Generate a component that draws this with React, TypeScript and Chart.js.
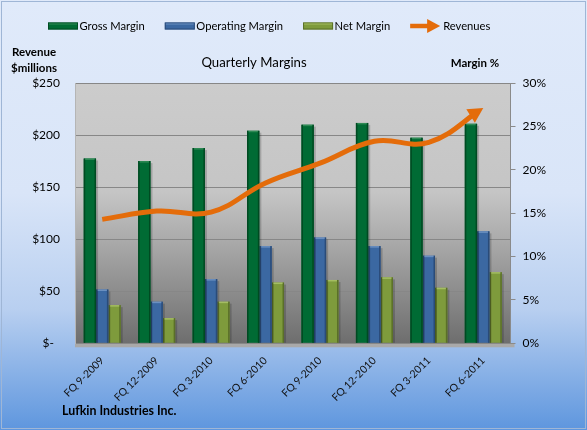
import React, { useEffect, useRef } from 'react';
import { Chart, registerables } from 'chart.js';

Chart.register(...registerables);

// Fiscal quarters shown on the category axis
const quarters = [
  'FQ 9-2009',
  'FQ 12-2009',
  'FQ 3-2010',
  'FQ 6-2010',
  'FQ 9-2010',
  'FQ 12-2010',
  'FQ 3-2011',
  'FQ 6-2011',
];

// Margins in percent (right axis)
const grossMargin = [21.3, 21.0, 22.5, 24.5, 25.2, 25.4, 23.7, 25.3];
const operatingMargin = [6.2, 4.8, 7.4, 11.2, 12.2, 11.2, 10.1, 12.9];
const netMargin = [4.4, 2.9, 4.8, 7.0, 7.3, 7.6, 6.4, 8.2];

// Quarterly revenues in $ millions (left axis)
const revenues = [119, 127, 126, 154, 173, 194, 193, 226];

// Axis ranges
const revenueAxis = { min: 0, max: 250, step: 50 };
const marginAxis = { min: 0, max: 30, step: 5 };

const FONT = 'Lato, "Open Sans", sans-serif';
const ORANGE = '#e46c0a';

const barStyles = [
  { fill: '#006b34', edge: '#004a22', hi: '#2f8a55' },
  { fill: '#3b68a2', edge: '#2a4b78', hi: '#6a8fc0' },
  { fill: '#7e9b3c', edge: '#5a6f28', hi: '#a4bd62' },
];

function arrowGeometry(chart: any, index: number) {
  const meta = chart.getDatasetMeta(index);
  const pts = meta.data;
  if (!pts || pts.length < 2) return null;
  const last = pts[pts.length - 1];
  const prev = pts[pts.length - 2];
  let dx = last.x - (last.cp1x ?? prev.x);
  let dy = last.y - (last.cp1y ?? prev.y);
  let len = Math.hypot(dx, dy);
  if (!isFinite(len) || len < 0.5) {
    dx = last.x - prev.x;
    dy = last.y - prev.y;
    len = Math.hypot(dx, dy);
  }
  const ux = dx / len;
  const uy = dy / len;
  return { tx: last.x, ty: last.y, ux, uy, nx: -uy, ny: ux };
}

const HEAD_LEN = 15;
const HEAD_HALF = 8;

// Ends the revenue line with an arrowhead that points along the curve
const arrowPlugin = {
  id: 'revenueArrow',
  beforeDatasetDraw(chart: any, args: any) {
    const ds = chart.data.datasets[args.index];
    if (ds.type !== 'line') return;
    const g = arrowGeometry(chart, args.index);
    if (!g) return;
    const ctx = chart.ctx;
    const bx = g.tx - g.ux * (HEAD_LEN - 2);
    const by = g.ty - g.uy * (HEAD_LEN - 2);
    const big = 3000;
    ctx.save();
    ctx.beginPath();
    ctx.moveTo(bx + g.nx * big, by + g.ny * big);
    ctx.lineTo(bx + g.nx * big - g.ux * big, by + g.ny * big - g.uy * big);
    ctx.lineTo(bx - g.nx * big - g.ux * big, by - g.ny * big - g.uy * big);
    ctx.lineTo(bx - g.nx * big, by - g.ny * big);
    ctx.closePath();
    ctx.clip();
    (chart as any).$arrowClip = true;
  },
  afterDatasetDraw(chart: any, args: any) {
    const ds = chart.data.datasets[args.index];
    if (ds.type !== 'line') return;
    const ctx = chart.ctx;
    if ((chart as any).$arrowClip) {
      ctx.restore();
      (chart as any).$arrowClip = false;
    }
    const g = arrowGeometry(chart, args.index);
    if (!g) return;
    const bx = g.tx - g.ux * HEAD_LEN;
    const by = g.ty - g.uy * HEAD_LEN;
    ctx.save();
    ctx.fillStyle = ds.borderColor;
    ctx.beginPath();
    ctx.moveTo(g.tx, g.ty);
    ctx.lineTo(bx + g.nx * HEAD_HALF, by + g.ny * HEAD_HALF);
    ctx.lineTo(bx - g.nx * HEAD_HALF, by - g.ny * HEAD_HALF);
    ctx.closePath();
    ctx.fill();
    ctx.restore();
  },
};

// Backgrounds: blue page gradient and grey plot wall with a floor strip
const backgroundPlugin = {
  id: 'backgrounds',
  beforeDraw(chart: any) {
    const { ctx, width, height, chartArea } = chart;
    ctx.save();
    const bg = ctx.createLinearGradient(0, 0, 0, height);
    bg.addColorStop(0, '#e0eafa');
    bg.addColorStop(0.45, '#d9e5f8');
    bg.addColorStop(0.72, '#b8cff0');
    bg.addColorStop(1, '#5e96de');
    ctx.fillStyle = bg;
    ctx.fillRect(0, 0, width, height);
    ctx.strokeStyle = '#9fb6d6';
    ctx.lineWidth = 1;
    ctx.strokeRect(1.5, 1.5, width - 3, height - 3);

    const { left, top, right, bottom } = chartArea;
    const wall = ctx.createLinearGradient(0, top, 0, bottom);
    wall.addColorStop(0, '#cccccc');
    wall.addColorStop(0.42, '#c5c5c5');
    wall.addColorStop(0.62, '#a8a8a8');
    wall.addColorStop(1, '#6e6e6e');
    ctx.fillStyle = wall;
    ctx.fillRect(left, top, right - left, bottom - top);
    ctx.fillStyle = '#a9a9a9';
    ctx.fillRect(left, bottom, right - left + 4, 4);
    ctx.restore();
  },
  afterDatasetDraw(chart: any, args: any) {
    const ds = chart.data.datasets[args.index];
    if (ds.type !== 'bar') return;
    const style = barStyles[args.index];
    const ctx = chart.ctx;
    const meta = chart.getDatasetMeta(args.index);
    ctx.save();
    meta.data.forEach((bar: any) => {
      const l = bar.x - bar.width / 2;
      const w = bar.width;
      const t = bar.y;
      const h = bar.base - bar.y;
      ctx.fillStyle = 'rgba(0,0,0,0.18)';
      ctx.fillRect(l + w, t + 2, 2, h - 2);
      ctx.fillStyle = style.edge;
      ctx.fillRect(l, t, 1.5, h);
      ctx.fillRect(l + w - 1.5, t, 1.5, h);
      ctx.fillStyle = style.hi;
      ctx.fillRect(l + 1.5, t, w - 3, 1.5);
    });
    ctx.restore();
  },
};

// Legend, titles and captions
const textPlugin = {
  id: 'captions',
  afterDraw(chart: any) {
    const ctx = chart.ctx;
    ctx.save();
    ctx.textBaseline = 'middle';
    ctx.fillStyle = '#000';

    // legend
    ctx.font = `11.2px ${FONT}`;
    let x = 48;
    const ly = 26;
    chart.data.datasets.forEach((ds: any, i: number) => {
      if (ds.type === 'bar') {
        const st = barStyles[i];
        ctx.fillStyle = st.fill;
        ctx.fillRect(x, ly - 3.5, 30, 7);
        ctx.strokeStyle = st.edge;
        ctx.lineWidth = 1;
        ctx.strokeRect(x + 0.5, ly - 3, 29, 6);
        ctx.fillStyle = st.hi;
        ctx.fillRect(x + 1, ly - 2.5, 28, 1);
      } else {
        ctx.strokeStyle = ds.borderColor;
        ctx.lineWidth = 4.5;
        ctx.beginPath();
        ctx.moveTo(x, ly);
        ctx.lineTo(x + 19, ly);
        ctx.stroke();
        ctx.fillStyle = ds.borderColor;
        ctx.beginPath();
        ctx.moveTo(x + 30, ly);
        ctx.lineTo(x + 17, ly - 7);
        ctx.lineTo(x + 17, ly + 7);
        ctx.closePath();
        ctx.fill();
      }
      ctx.fillStyle = '#000';
      ctx.textAlign = 'left';
      const tx = x + (ds.type === 'bar' ? 31.5 : 33);
      ctx.fillText(ds.label, tx, ly);
      x = tx + ctx.measureText(ds.label).width + 20;
    });

    // chart title
    ctx.textAlign = 'center';
    ctx.font = `13.2px ${FONT}`;
    ctx.fillText('Quarterly Margins', 254, 63);

    // axis captions
    ctx.font = `bold 11.5px ${FONT}`;
    ctx.fillText('Revenue', 34, 52);
    ctx.fillText('$millions', 34, 68);
    ctx.fillText('Margin %', 475, 63);

    ctx.textAlign = 'left';
    ctx.font = `bold 12.4px ${FONT}`;
    ctx.fillText('Lufkin Industries Inc.', 62, 411);
    ctx.restore();
  },
};

export default function App() {
  const canvasRef = useRef<HTMLCanvasElement | null>(null);

  useEffect(() => {
    document.body.style.margin = '0';
    const canvas = canvasRef.current;
    if (!canvas) return;

    const chart = new Chart(canvas, {
      type: 'bar',
      data: {
        labels: quarters,
        datasets: [
          {
            type: 'bar',
            label: 'Gross Margin',
            data: grossMargin,
            yAxisID: 'y1',
            backgroundColor: barStyles[0].fill,
            order: 1,
          },
          {
            type: 'bar',
            label: 'Operating Margin',
            data: operatingMargin,
            yAxisID: 'y1',
            backgroundColor: barStyles[1].fill,
            order: 1,
          },
          {
            type: 'bar',
            label: 'Net Margin',
            data: netMargin,
            yAxisID: 'y1',
            backgroundColor: barStyles[2].fill,
            order: 1,
          },
          {
            type: 'line',
            label: 'Revenues',
            data: revenues,
            yAxisID: 'y',
            borderColor: ORANGE,
            backgroundColor: ORANGE,
            borderWidth: 5,
            borderCapStyle: 'butt',
            borderJoinStyle: 'round',
            tension: 0.4,
            pointRadius: 0,
            pointHoverRadius: 0,
            fill: false,
            order: 0,
          } as any,
        ],
      },
      options: {
        responsive: false,
        animation: false,
        devicePixelRatio: 1,
        layout: { padding: { top: 83, left: 0, right: 0, bottom: 0 } },
        datasets: {
          bar: { categoryPercentage: 0.68, barPercentage: 1 },
        },
        plugins: {
          legend: { display: false },
          title: { display: false },
          tooltip: { enabled: false },
        },
        scales: {
          x: {
            grid: { display: false },
            border: { display: false },
            ticks: {
              autoSkip: false,
              minRotation: 45,
              maxRotation: 45,
              padding: 3,
              color: '#111',
              font: { family: FONT, size: 10.5 },
            },
            afterFit: (s: any) => {
              s.height = 86.7;
            },
          },
          y: {
            position: 'left',
            min: revenueAxis.min,
            max: revenueAxis.max,
            grid: { color: '#878787', lineWidth: 1, drawTicks: false },
            border: { display: true, color: '#b5b5b5' },
            ticks: {
              stepSize: revenueAxis.step,
              padding: 15,
              color: '#000',
              font: { family: FONT, size: 12 },
              callback: (v: any) => (Number(v) === 0 ? '$-  ' : '$' + v),
            },
            afterFit: (s: any) => {
              s.width = 75;
            },
          },
          y1: {
            position: 'right',
            min: marginAxis.min,
            max: marginAxis.max,
            grid: {
              drawOnChartArea: false,
              drawTicks: true,
              tickLength: 5,
              color: '#8a8a8a',
            },
            border: { display: true, color: '#8a8a8a' },
            ticks: {
              stepSize: marginAxis.step,
              padding: 7,
              color: '#000',
              font: { family: FONT, size: 12 },
              callback: (v: any) => v + '%',
            },
            afterFit: (s: any) => {
              s.width = 76.5;
            },
          },
        },
      },
      plugins: [backgroundPlugin, arrowPlugin, textPlugin],
    });

    return () => chart.destroy();
  }, []);

  return (
    <div style={{ width: 587, height: 430 }}>
      <canvas ref={canvasRef} width={587} height={430} />
    </div>
  );
}
